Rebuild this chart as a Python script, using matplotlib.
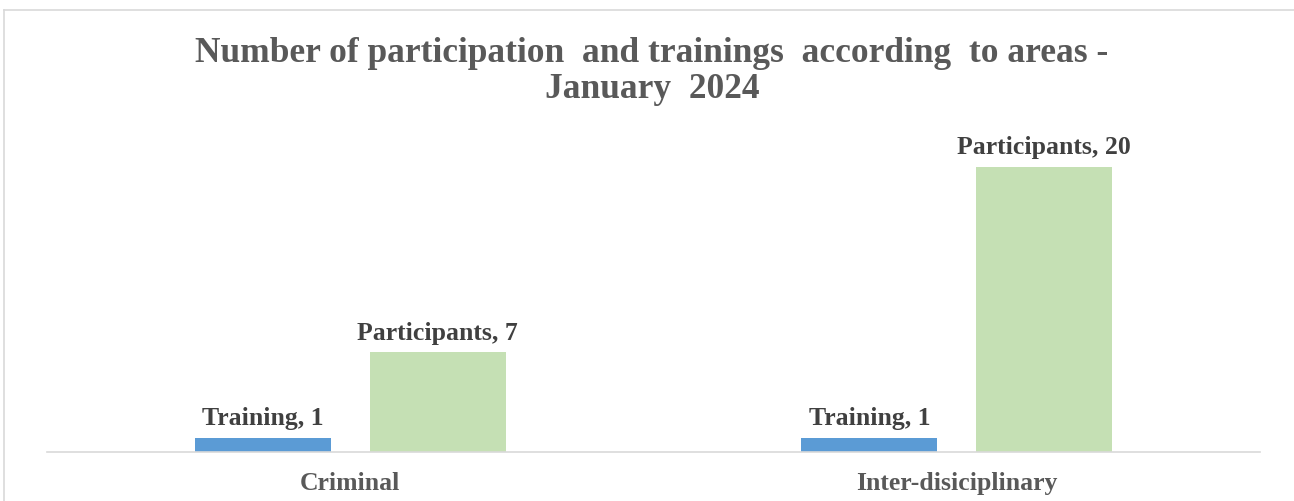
import matplotlib.pyplot as plt
from matplotlib.lines import Line2D
import numpy as np

categories = ['Criminal', 'Inter-disiciplinary']
series = ['Training', 'Participants']
training = [1, 1]
participants = [7, 20]

W, H = 1294, 502
fig = plt.figure(figsize=(W / 100, H / 100), dpi=100)
plt.rcParams['font.family'] = ['Liberation Serif', 'DejaVu Serif']

# chart frame (light gray, cut at right and bottom)
fig.add_artist(Line2D([3.5 / W, 3.5 / W], [0, 1 - 11 / H], color='#d9d9d9', lw=1.2))
fig.add_artist(Line2D([3.5 / W, 1], [1 - 11 / H, 1 - 11 / H], color='#d9d9d9', lw=1.2))

ax = fig.add_axes([47 / W, 1 - 453 / H, (1260 - 47) / W, (453 - 132) / H])
x = np.arange(len(categories))
width = 0.224
off = 0.144
b1 = ax.bar(x - off, training, width, color='#5b9bd5')
b2 = ax.bar(x + off, participants, width, color='#c5e0b4')

ax.set_xlim(-0.5, 1.5)
ax.set_ylim(0, 22.5)
for s in ['top', 'right', 'left']:
    ax.spines[s].set_visible(False)
ax.spines['bottom'].set_color('#d9d9d9')
ax.spines['bottom'].set_linewidth(1.2)
ax.set_yticks([])
ax.set_xticks(x)
ax.set_xticklabels(categories, fontsize=18.5, fontweight='bold', color='#595959')
ax.tick_params(axis='x', length=0, pad=14)

for bars, name, vals in [(b1, series[0], training), (b2, series[1], participants)]:
    for rect, v in zip(bars, vals):
        ax.annotate(f'{name}, {v}', (rect.get_x() + rect.get_width() / 2, v),
                    xytext=(0, 6), textcoords='offset points', ha='center', va='bottom',
                    fontsize=18.5, fontweight='bold', color='#404040')

fig.text(652 / W, 1 - 54 / H, 'Number of participation  and trainings  according  to areas -',
         ha='center', va='center', fontsize=25.5, fontweight='bold', color='#595959')
fig.text(652 / W, 1 - 90 / H, 'January  2024',
         ha='center', va='center', fontsize=25.5, fontweight='bold', color='#595959')

fig.savefig('out.png', dpi=100)
